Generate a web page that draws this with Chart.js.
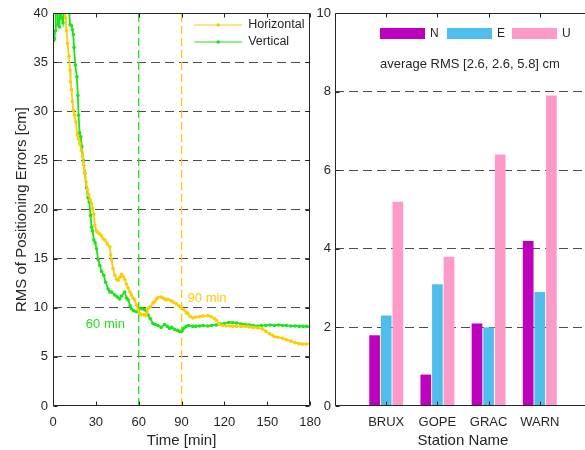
<!DOCTYPE html>
<html>
<head>
<meta charset="utf-8">
<script src="https://cdn.jsdelivr.net/npm/chart.js@4"></script>
<style>
  html, body { margin: 0; padding: 0; background: #fff; width: 585px; height: 450px; overflow: hidden; }
  canvas { position: absolute; top: 0; }
  #left { left: 0; }
  #right { left: 315px; }
</style>
</head>
<body>
<canvas id="left" width="330" height="450"></canvas>
<canvas id="right" width="285" height="450"></canvas>
<script>
// RMS of positioning errors over time [min, cm]
const timeH = [0.5, 2, 4, 6, 7, 8, 8.8, 9.5, 10.2, 11.2, 11.9, 12.3, 13, 13.6, 14.2, 15, 16, 17, 17.8, 18.8, 19.8, 20.7, 21.5, 22.3, 23.2, 24, 25, 26, 27, 27.8, 28.6, 29.3, 30.5, 31.6, 32.8, 34, 35.2, 36.3, 38, 39.8, 40.4, 40.9, 42, 43.3, 44.5, 45.6, 46.8, 47.9, 49, 50.2, 51.4, 52.6, 53.8, 54.9, 56, 57.2, 58.4, 59.5, 60.7, 61.9, 63.5, 64.9, 65.5, 66.5, 68, 70, 71.2, 72.5, 73.5, 75.8, 77, 78.2, 79.3, 80.5, 82.8, 84.5, 86.3, 88, 89.8, 91.5, 93.3, 94.4, 96, 97.9, 100, 102.6, 105, 108.4, 110.5, 113, 114.2, 116.5, 118.8, 121.2, 123.5, 125.8, 128.5, 131.6, 134.5, 137.4, 140, 143.3, 146.7, 149, 151.5, 153.7, 155, 157.5, 160.7, 163.5, 166.5, 169.5, 172.3, 174.7, 177, 180];
const rmsH = [44, 46, 45, 43, 41, 40.5, 39.5, 38.2, 36.9, 35.6, 34.2, 33.0, 32.2, 31.0, 30.1, 29.6, 28.9, 27.6, 27.2, 26.7, 26.0, 25.4, 24.5, 23.7, 22.8, 22.0, 21.5, 21.0, 20.6, 20.1, 19.5, 18.4, 17.8, 17.6, 17.5, 17.3, 17.0, 16.9, 16.5, 16.2, 15.4, 14.9, 14.0, 13.3, 12.9, 12.8, 13.1, 13.4, 13.2, 12.9, 12.4, 12.0, 11.6, 11.3, 11.0, 10.8, 10.3, 9.8, 9.4, 9.3, 9.3, 9.2, 9.45, 9.9, 10.1, 10.5, 10.6, 10.9, 11.05, 11.1, 11.0, 10.9, 10.8, 10.85, 10.7, 10.55, 10.4, 10.2, 10.0, 9.8, 9.5, 9.4, 9.1, 8.95, 9.05, 9.1, 9.15, 9.2, 9.1, 8.9, 8.75, 8.3, 8.2, 8.15, 8.15, 8.1, 8.1, 8.1, 8.1, 8.05, 8.0, 7.95, 7.85, 7.6, 7.35, 7.2, 7.05, 7.0, 6.9, 6.75, 6.6, 6.45, 6.35, 6.3, 6.3, 6.35];

const timeV = [0.5, 1, 1.5, 2, 3, 3.5, 4.5, 5, 6, 7, 8, 9, 10, 11, 12, 13, 13.6, 14.2, 14.7, 15.6, 16.7, 17.4, 17.9, 18.6, 19.4, 20.2, 21.2, 22.3, 23.5, 24.5, 25.3, 26.3, 27, 27.7, 28.6, 29.5, 30.5, 31.6, 32.8, 34, 35.6, 36.8, 38.6, 39.8, 41, 43.3, 45, 46.7, 48, 50.2, 51.5, 52.6, 54, 54.9, 56.5, 58.4, 60, 60.7, 62.5, 64.2, 65.5, 66.5, 68, 70, 71.5, 73.5, 75.8, 78.1, 80, 81.6, 83, 85.1, 87, 88.6, 90.2, 91.5, 93.3, 95, 97.9, 100, 102.6, 105, 108.4, 111, 114.2, 117, 120, 123, 125.8, 128.5, 131.6, 134.5, 137.4, 140, 143.3, 146, 149, 152, 155, 158, 160.8, 163.5, 166.5, 169.5, 172.3, 175, 177.5, 180];
const rmsV = [37.2, 37.4, 38.2, 41, 42, 38.8, 38.6, 41, 39.5, 39, 41, 42, 41.5, 40.8, 38.8, 38.7, 38.3, 37.8, 36.5, 34.7, 33.5, 31.6, 29.6, 27.8, 27.4, 26.4, 25.0, 23.7, 22.2, 21.2, 20.8, 19.4, 18.2, 17.8, 16.9, 16.6, 16.0, 14.9, 14.3, 13.7, 13.3, 12.6, 11.9, 11.6, 11.6, 11.3, 11.1, 10.9, 11.2, 11.6, 11.0, 10.8, 10.2, 9.9, 9.7, 9.6, 9.8, 9.9, 9.9, 9.8, 9.6, 9.3, 8.9, 8.4, 8.3, 8.2, 8.0, 8.3, 8.1, 7.9, 8.0, 7.8, 7.7, 7.6, 7.6, 7.9, 8.1, 8.2, 8.1, 8.1, 8.15, 8.2, 8.15, 8.2, 8.25, 8.35, 8.4, 8.5, 8.5, 8.45, 8.35, 8.3, 8.25, 8.2, 8.15, 8.2, 8.2, 8.25, 8.2, 8.25, 8.2, 8.2, 8.15, 8.15, 8.1, 8.1, 8.1, 8.05];

const markTimes = [60, 90];

// per-station RMS [cm]
const stations = ['BRUX', 'GOPE', 'GRAC', 'WARN'];
const rmsN = [1.8, 0.8, 2.1, 4.2];
const rmsE = [2.3, 3.1, 2.0, 2.9];
const rmsU = [5.2, 3.8, 6.4, 7.9];
const avgRms = [2.6, 2.6, 5.8];

const axisColor = '#262626';
const gridColor = '#4d4d4d';
const fontFam = "'Liberation Sans', Arial, Helvetica, sans-serif";
const yellow = '#FFCC00';
const green = '#19E619';

function pts(t, v) {
  return t.map((x, i) => ({ x: x, y: v[i] }));
}
function pad(a) {
  return [null].concat(a, [null]);
}

// axes box with inward ticks, like the original
const boxPlugin = {
  id: 'box',
  afterDatasetsDraw(chart) {
    const { ctx, chartArea: a, scales: { x, y } } = chart;
    const L = Math.round(a.left) + 0.5, R = Math.round(a.right) - 0.5;
    const T = Math.round(a.top) + 0.5, B = Math.round(a.bottom) - 0.5;
    ctx.save();
    ctx.strokeStyle = axisColor;
    ctx.lineWidth = 1;
    ctx.beginPath();
    ctx.rect(L, T, R - L, B - T);
    x.ticks.forEach((t, i) => {
      if (x.type === 'category' && !chart.data.labels[t.value]) return;
      const px = Math.round(x.getPixelForTick(i)) + 0.5;
      ctx.moveTo(px, B); ctx.lineTo(px, B - 4);
      ctx.moveTo(px, T); ctx.lineTo(px, T + 4);
    });
    y.ticks.forEach((t, i) => {
      const py = Math.round(y.getPixelForTick(i)) + 0.5;
      ctx.moveTo(L, py); ctx.lineTo(L + 4, py);
      ctx.moveTo(R, py); ctx.lineTo(R - 4, py);
    });
    ctx.stroke();
    ctx.restore();
  }
};

const lineLegend = {
  id: 'lineLegend',
  afterDraw(chart) {
    const { ctx, chartArea: a } = chart;
    ctx.save();
    ctx.font = '12.5px ' + fontFam;
    ctx.textBaseline = 'middle';
    chart.data.datasets.slice(0, 2).forEach((ds, i) => {
      const y0 = a.top + 12 + i * 17;
      const x0 = a.right - 116, x1 = a.right - 68;
      ctx.strokeStyle = ds.borderColor;
      ctx.lineWidth = 1;
      ctx.beginPath(); ctx.moveTo(x0, y0); ctx.lineTo(x1, y0); ctx.stroke();
      ctx.fillStyle = ds.borderColor;
      ctx.beginPath(); ctx.arc((x0 + x1) / 2, y0, 1.8, 0, Math.PI * 2); ctx.fill();
      ctx.fillStyle = axisColor;
      ctx.fillText(ds.label, a.right - 62, y0);
    });
    ctx.restore();
  }
};

const notes = {
  id: 'notes',
  afterDatasetsDraw(chart) {
    const { ctx, scales: { x, y } } = chart;
    ctx.save();
    ctx.font = '13px ' + fontFam;
    ctx.textBaseline = 'middle';
    ctx.fillStyle = green;
    ctx.fillText(markTimes[0] + ' min', x.getPixelForValue(23), y.getPixelForValue(8.3));
    ctx.fillStyle = yellow;
    ctx.fillText(markTimes[1] + ' min', x.getPixelForValue(94.2), y.getPixelForValue(11.0));
    ctx.restore();
  }
};

const barLegend = {
  id: 'barLegend',
  afterDraw(chart) {
    const { ctx, chartArea: a } = chart;
    const offs = [45, 112, 177];
    ctx.save();
    ctx.textBaseline = 'middle';
    chart.data.datasets.forEach((ds, i) => {
      const x0 = a.left + offs[i];
      ctx.fillStyle = ds.backgroundColor;
      ctx.fillRect(x0, a.top + 15, 45, 11);
      ctx.fillStyle = axisColor;
      ctx.font = '12px ' + fontFam;
      ctx.fillText(ds.label, x0 + 50, a.top + 20.5);
    });
    ctx.font = '13px ' + fontFam;
    ctx.fillText('average RMS [' + avgRms.join(', ') + '] cm', a.left + 45, a.top + 51);
    ctx.restore();
  }
};

const tickFont = { family: fontFam, size: 13 };
const titleFont = { family: fontFam, size: 15 };

const seriesStyle = { borderWidth: 1.8, pointRadius: 1.8, pointBorderWidth: 0, tension: 0, clip: 0 };
const markStyle = { borderWidth: 1.3, borderDash: [8, 4], pointRadius: 0, clip: 0 };

new Chart(document.getElementById('left'), {
  type: 'line',
  data: {
    datasets: [
      Object.assign({ label: 'Horizontal', data: pts(timeH, rmsH), borderColor: yellow, backgroundColor: yellow }, seriesStyle),
      Object.assign({ label: 'Vertical', data: pts(timeV, rmsV), borderColor: green, backgroundColor: green }, seriesStyle),
      Object.assign({ label: '60', data: [{ x: markTimes[0], y: 0 }, { x: markTimes[0], y: 40 }], borderColor: green }, markStyle),
      Object.assign({ label: '90', data: [{ x: markTimes[1], y: 0 }, { x: markTimes[1], y: 40 }], borderColor: yellow }, markStyle)
    ]
  },
  options: {
    responsive: false,
    animation: false,
    layout: { padding: { top: 13, right: 19, left: 0, bottom: 0 } },
    plugins: { legend: { display: false }, tooltip: { enabled: false } },
    scales: {
      x: {
        type: 'linear', min: 0, max: 180,
        ticks: { stepSize: 30, color: axisColor, font: tickFont, padding: 9, maxRotation: 0 },
        grid: { display: false, drawTicks: false },
        border: { display: false },
        title: { display: true, text: 'Time [min]', color: axisColor, font: titleFont, padding: { top: 0, bottom: 0 } },
        afterFit: s => { s.height = 44; }
      },
      y: {
        min: 0, max: 40,
        ticks: { stepSize: 5, color: axisColor, font: tickFont, padding: 5 },
        grid: {
          color: c => (c.tick && c.tick.value > 0 && c.tick.value < 40) ? gridColor : 'rgba(0,0,0,0)',
          drawTicks: false
        },
        border: { display: false, dash: [9, 5] },
        title: { display: true, text: 'RMS of Positioning Errors [cm]', color: axisColor, font: titleFont, padding: { top: 13, bottom: 0 } },
        afterFit: s => { s.width = 53; }
      }
    }
  },
  plugins: [boxPlugin, notes, lineLegend]
});

new Chart(document.getElementById('right'), {
  type: 'bar',
  data: {
    labels: pad(stations).map(s => s || ''),
    datasets: [
      { label: 'N', data: pad(rmsN), backgroundColor: '#BF00BF' },
      { label: 'E', data: pad(rmsE), backgroundColor: '#4DBEEE' },
      { label: 'U', data: pad(rmsU), backgroundColor: '#FF99C8' }
    ]
  },
  options: {
    responsive: false,
    animation: false,
    datasets: { bar: { categoryPercentage: 0.68, barPercentage: 0.92 } },
    layout: { padding: { top: 13, right: 6.5, left: 0, bottom: 0 } },
    plugins: { legend: { display: false }, tooltip: { enabled: false } },
    scales: {
      x: {
        offset: false,
        ticks: { color: axisColor, font: tickFont, padding: 9, autoSkip: false, maxRotation: 0 },
        grid: { display: false, drawTicks: false },
        border: { display: false },
        title: { display: true, text: 'Station Name', color: axisColor, font: titleFont, padding: { top: 0, bottom: 0 } },
        afterFit: s => { s.height = 44; }
      },
      y: {
        min: 0, max: 10,
        ticks: { stepSize: 2, color: axisColor, font: tickFont, padding: 4 },
        grid: {
          color: c => (c.tick && c.tick.value > 0 && c.tick.value < 10) ? gridColor : 'rgba(0,0,0,0)',
          drawTicks: false
        },
        border: { display: false, dash: [9, 5] },
        afterFit: s => { s.width = 20; }
      }
    }
  },
  plugins: [boxPlugin, barLegend]
});
</script>
</body>
</html>
